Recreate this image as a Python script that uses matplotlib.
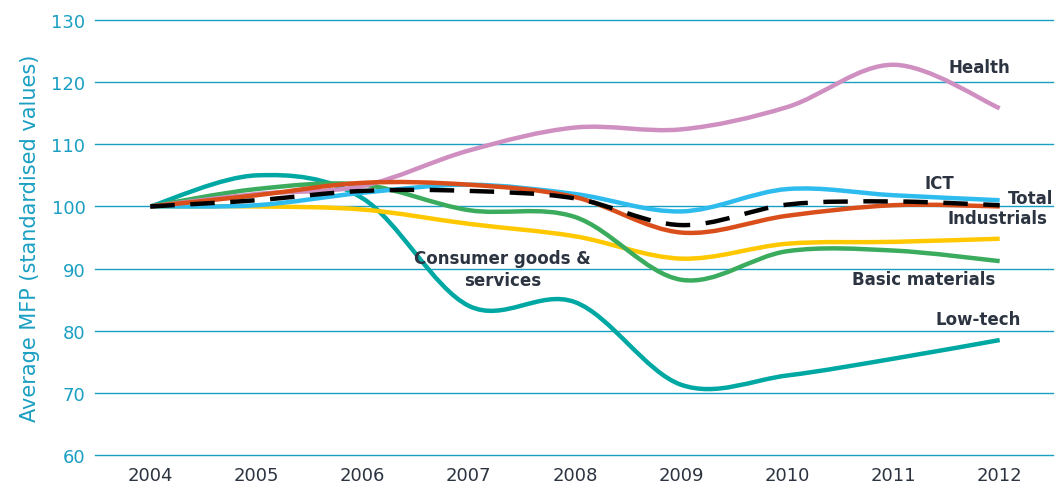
import numpy as np
import matplotlib.pyplot as plt
from matplotlib.path import Path
from matplotlib.patches import PathPatch

years = [2004, 2005, 2006, 2007, 2008, 2009, 2010, 2011, 2012]

low_tech = [100, 105.0, 101.3, 84.0, 84.6, 71.3, 72.8, 75.5, 78.5]
consumer = [100, 100.0, 99.5, 97.2, 95.2, 91.6, 94.0, 94.3, 94.8]
basic_materials = [100, 102.8, 103.5, 99.4, 98.3, 88.2, 92.8, 92.9, 91.2]
health = [100, 102.0, 103.3, 109.0, 112.7, 112.4, 116.0, 122.8, 115.8]
ict = [100, 100.2, 102.2, 103.5, 102.0, 99.2, 102.8, 101.8, 101.0]
industrials = [100, 101.8, 103.8, 103.5, 101.5, 95.8, 98.5, 100.2, 100.0]
total = [100, 101.0, 102.5, 102.5, 101.3, 97.0, 100.3, 100.8, 100.2]

teal = '#1a9fc2'
text_col = '#2b3440'


def smooth_path(x, y):
    # cubic bezier through points, excel-like smoothing
    p = np.column_stack([x, y]).astype(float)
    ext = np.vstack([p[0], p, p[-1]])
    verts = [p[0]]
    codes = [Path.MOVETO]
    for i in range(len(p) - 1):
        p0, p1, p2, p3 = ext[i], ext[i + 1], ext[i + 2], ext[i + 3]
        c1 = p1 + (p2 - p0) / 6
        c2 = p2 - (p3 - p1) / 6
        verts += [c1, c2, p2]
        codes += [Path.CURVE4] * 3
    return Path(verts, codes)


fig = plt.figure(figsize=(10.57, 4.89), dpi=100)
ax = fig.add_axes([0.090, 0.0675, 0.906, 0.8895])

series = [
    (low_tech, '#00a8a3', '-'),
    (consumer, '#ffc800', '-'),
    (basic_materials, '#3bab5e', '-'),
    (health, '#cf8fc1', '-'),
    (ict, '#2ebbee', '-'),
    (industrials, '#d94e1a', '-'),
    (total, 'black', (0, (5.5, 3.5))),
]
for vals, col, ls in series:
    patch = PathPatch(smooth_path(years, vals), facecolor='none', edgecolor=col,
                      lw=3.2, ls=ls, capstyle='butt', zorder=3)
    ax.add_patch(patch)

ax.set_xlim(2003.48, 2012.5)
ax.set_ylim(60, 130)
ax.set_xticks(years)
ax.set_yticks(range(60, 131, 10))
ax.grid(axis='y', color=teal, lw=1)
for gl in ax.get_ygridlines():
    gl.set_clip_on(False)
ax.set_axisbelow(True)
for s in ax.spines.values():
    s.set_visible(False)
ax.tick_params(length=0)
ax.tick_params(axis='x', labelsize=13, labelcolor=text_col, pad=8)
ax.tick_params(axis='y', labelsize=13, labelcolor=teal, pad=7)
ax.set_ylabel('Average MFP (standardised values)', color=teal, fontsize=15, labelpad=8)

lab = dict(fontsize=12, fontweight='bold', color=text_col, va='center')
ax.text(2011.81, 122.4, 'Health', ha='center', **lab)
ax.text(2011.43, 103.8, 'ICT', ha='center', **lab)
ax.text(2012.08, 101.4, 'Total', ha='left', **lab)
ax.text(2011.98, 98.1, 'Industrials', ha='center', **lab)
ax.text(2011.28, 88.3, 'Basic materials', ha='center', **lab)
ax.text(2011.8, 81.9, 'Low-tech', ha='center', **lab)
ax.text(2007.32, 89.9, 'Consumer goods &\nservices', ha='center', linespacing=1.3, **lab)

fig.savefig('out.png', dpi=100)
